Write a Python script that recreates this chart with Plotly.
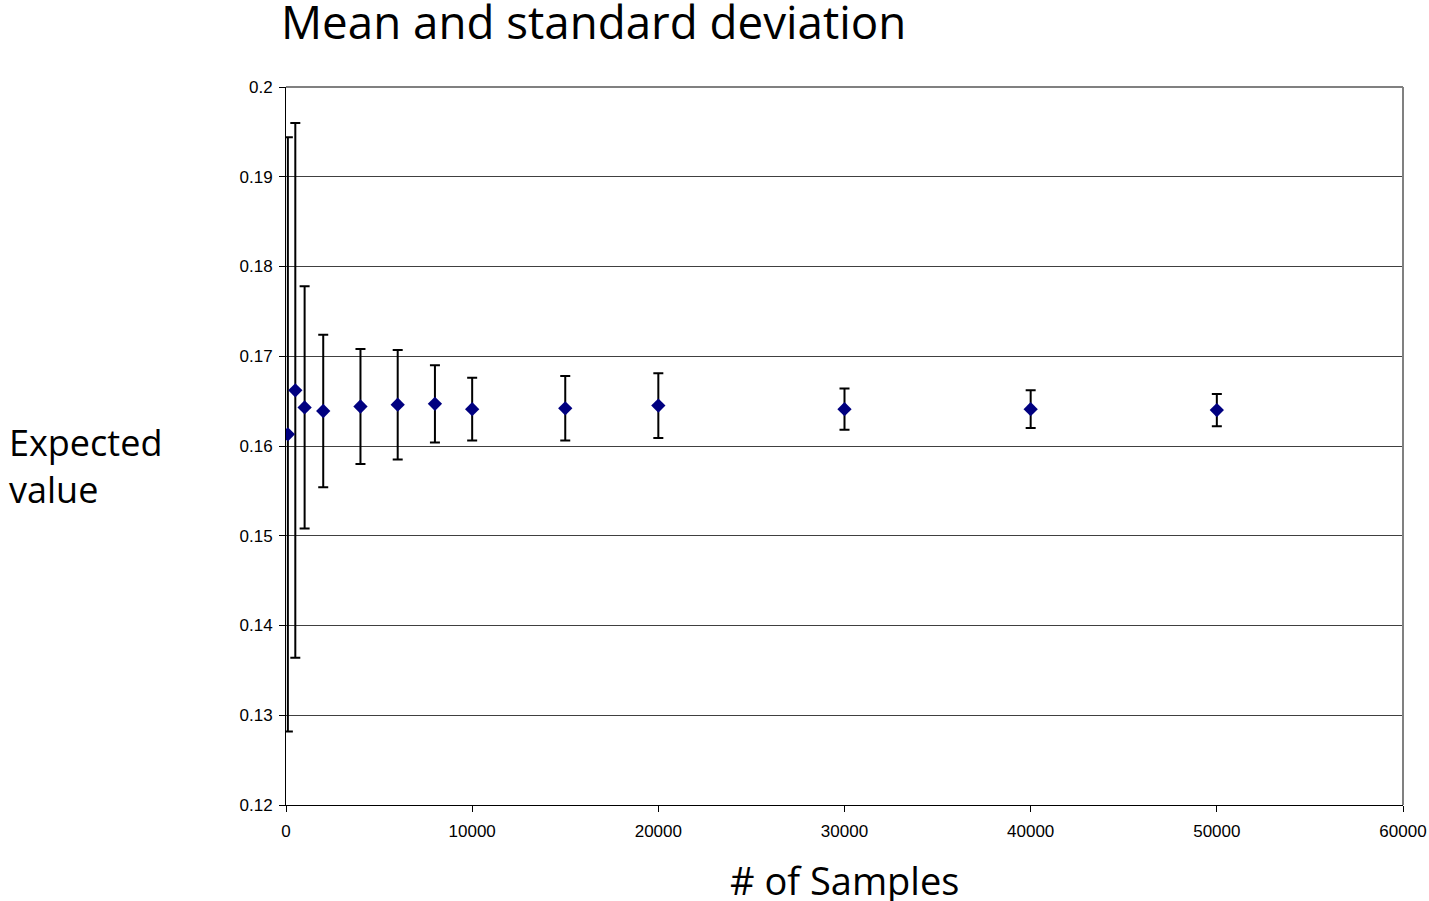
import plotly.graph_objects as go

samples = [100, 500, 1000, 2000, 4000, 6000, 8000, 10000, 15000, 20000, 30000, 40000, 50000]
mean_vals = [0.1613, 0.1662, 0.1643, 0.1639, 0.1644, 0.1646, 0.1647, 0.1641, 0.1642, 0.1645, 0.1641, 0.1641, 0.1640]
std_vals = [0.0331, 0.0298, 0.0135, 0.0085, 0.0064, 0.0061, 0.0043, 0.0035, 0.0036, 0.0036, 0.0023, 0.0021, 0.0018]

x_ticks = [0, 10000, 20000, 30000, 40000, 50000, 60000]
y_ticks = [0.12, 0.13, 0.14, 0.15, 0.16, 0.17, 0.18, 0.19, 0.2]
y_tick_text = ["0.12", "0.13", "0.14", "0.15", "0.16", "0.17", "0.18", "0.19", "0.2"]

TICKFONT = dict(size=17, family="Liberation Sans, Arial, sans-serif", color="black")

fig = go.Figure()
fig.add_trace(go.Scatter(
    x=samples, y=mean_vals, mode="markers",
    marker=dict(symbol="diamond", size=11, color="#000080"),
    error_y=dict(type="data", array=std_vals, visible=True,
                 color="black", thickness=2, width=5),
    showlegend=False,
))

fig.update_layout(
    width=1429, height=901,
    margin=dict(l=286, r=26, t=87, b=96, autoexpand=False),
    paper_bgcolor="white", plot_bgcolor="white",
    font=dict(family="Liberation Sans, Arial, sans-serif", color="black"),
    xaxis=dict(range=[0, 60000], tickvals=x_ticks, ticktext=[str(v) for v in x_ticks],
               showgrid=False, zeroline=False, showline=True, linecolor="black", linewidth=1,
               ticks="outside", ticklen=6, tickcolor="black", ticklabelstandoff=5,
               tickfont=TICKFONT, automargin=False, ticklabeloverflow="allow"),
    yaxis=dict(range=[0.12, 0.2], tickvals=y_ticks, ticktext=y_tick_text,
               showgrid=True, gridcolor="#404040", gridwidth=1, zeroline=False,
               showline=True, linecolor="black", linewidth=1,
               ticks="outside", ticklen=6, tickcolor="black", ticklabelstandoff=3,
               tickfont=TICKFONT, automargin=False),
    shapes=[
        dict(type="line", xref="paper", yref="paper", x0=0, x1=1, y0=1, y1=1,
             line=dict(color="#808080", width=2)),
        dict(type="line", xref="paper", yref="paper", x0=1, x1=1, y0=0, y1=1,
             line=dict(color="#808080", width=2)),
    ],
    annotations=[
        dict(text="Mean and standard deviation", xref="paper", yref="paper",
             x=-0.0067, y=1.0, yshift=66, xanchor="left", yanchor="middle", showarrow=False,
             font=dict(family="Open Sans", size=45.7, color="black")),
        dict(text="Expected<br>value", xref="paper", yref="paper",
             x=-0.2498, y=0.5, yshift=-20, xanchor="left", yanchor="middle", showarrow=False,
             align="left", font=dict(family="Open Sans", size=36, color="black")),
        dict(text="# of Samples", xref="paper", yref="paper",
             x=0.5, y=0, yshift=-75, xanchor="center", yanchor="middle", showarrow=False,
             font=dict(family="Open Sans", size=38, color="black")),
    ],
)

fig.write_html(
    "out.html",
    config={"displayModeBar": False},
    post_script="document.body.style.margin='0px'; document.body.style.overflow='hidden';",
)
